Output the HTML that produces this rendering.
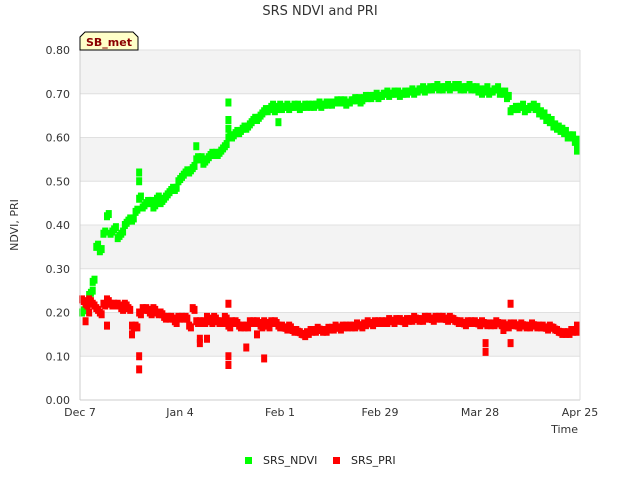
<!DOCTYPE html>
<html><head><meta charset="utf-8"><style>
body{margin:0;background:#fff;font-family:"Liberation Sans","DejaVu Sans",sans-serif;}
svg text{font-family:"DejaVu Sans","Liberation Sans",sans-serif;}
</style></head><body>
<svg id="chart" width="640" height="480" viewBox="0 0 640 480" xmlns="http://www.w3.org/2000/svg">
<text x="320" y="15" text-anchor="middle" font-size="13" fill="#333">SRS NDVI and PRI</text>
<g id="bands"></g>
<g id="yaxis"></g>
<g id="xaxis"></g>
<g id="ndvi"></g>
<g id="pri"></g>
<line x1="80" y1="400" x2="580" y2="400" stroke="#ccc"/>
<line x1="80" y1="50" x2="80" y2="400" stroke="#ccc"/>
<line x1="580" y1="50" x2="580" y2="400" stroke="#ddd"/>
<text x="18" y="225" transform="rotate(-90 18 225)" text-anchor="middle" font-size="11" fill="#333">NDVI, PRI</text>
<text x="578" y="433" text-anchor="end" font-size="11" fill="#333">Time</text>
<g>
<path d="M80,50 L80,37 L85,32 L133,32 L138,37 L138,50 Z" fill="#ffffc8" stroke="#000" stroke-width="1"/>
<text x="109" y="46" text-anchor="middle" font-size="11" font-weight="bold" fill="#8b0000">SB_met</text>
</g>
<g>
<g><rect x="245" y="457" width="7" height="7" fill="#00ff00"/><text x="263" y="464" font-size="11" fill="#222">SRS_NDVI</text></g>
<g><rect x="333" y="457" width="7" height="7" fill="#ff0000"/><text x="351" y="464" font-size="11" fill="#222">SRS_PRI</text></g>
</g>
</svg>
<script>
const yTicks=[0,0.1,0.2,0.3,0.4,0.5,0.6,0.7,0.8];
const xTickDays=[0,28,56,84,112,140];
const xTickLabels=["Dec 7","Jan 4","Feb 1","Feb 29","Mar 28","Apr 25"];
const ndviDaily=[0.20,0.22,0.24,0.27,0.35,0.34,0.38,0.42,0.38,0.39,0.37,0.38,0.40,0.41,0.41,0.43,0.46,0.44,0.45,0.45,0.44,0.46,0.45,0.46,0.47,0.48,0.48,0.50,0.51,0.52,0.52,0.53,0.55,0.55,0.54,0.55,0.56,0.56,0.56,0.57,0.58,0.60,0.60,0.61,0.61,0.62,0.62,0.63,0.64,0.64,0.65,0.66,0.66,0.67,0.66,0.67,0.665,0.67,0.665,0.67,0.67,0.665,0.67,0.67,0.67,0.67,0.675,0.67,0.675,0.675,0.675,0.68,0.68,0.68,0.675,0.68,0.685,0.685,0.68,0.69,0.69,0.69,0.695,0.69,0.695,0.70,0.695,0.70,0.70,0.695,0.70,0.70,0.705,0.70,0.705,0.71,0.705,0.71,0.71,0.715,0.71,0.71,0.715,0.71,0.715,0.715,0.71,0.71,0.715,0.71,0.71,0.705,0.70,0.71,0.70,0.705,0.71,0.70,0.70,0.69,0.66,0.665,0.665,0.67,0.66,0.665,0.67,0.665,0.655,0.65,0.64,0.635,0.625,0.62,0.615,0.61,0.60,0.60,0.59,0.585,0.57];
const priDaily=[0.23,0.22,0.23,0.22,0.21,0.20,0.22,0.23,0.22,0.22,0.22,0.21,0.22,0.21,0.17,0.17,0.20,0.21,0.21,0.20,0.21,0.20,0.20,0.19,0.19,0.19,0.18,0.19,0.19,0.19,0.17,0.21,0.18,0.18,0.18,0.19,0.18,0.19,0.18,0.18,0.19,0.17,0.18,0.18,0.17,0.17,0.17,0.18,0.18,0.18,0.17,0.18,0.17,0.18,0.18,0.17,0.17,0.165,0.17,0.16,0.16,0.155,0.15,0.155,0.16,0.16,0.165,0.16,0.16,0.165,0.165,0.17,0.165,0.17,0.17,0.17,0.17,0.175,0.17,0.175,0.18,0.175,0.18,0.18,0.18,0.18,0.185,0.18,0.185,0.185,0.18,0.185,0.185,0.19,0.185,0.185,0.19,0.19,0.185,0.19,0.19,0.19,0.185,0.19,0.185,0.18,0.18,0.175,0.18,0.18,0.18,0.175,0.18,0.175,0.175,0.175,0.18,0.175,0.175,0.17,0.175,0.175,0.17,0.175,0.17,0.17,0.175,0.17,0.17,0.17,0.165,0.17,0.165,0.16,0.155,0.155,0.155,0.16,0.16,0.165,0.17];
const ndviOutlierDays=[16,16,41,41,41,55,3,32];
const ndviOutlierVals=[0.52,0.50,0.68,0.64,0.62,0.635,0.25,0.58];
const priOutlierDays=[16,16,14,33,33,35,41,41,41,46,51,49,113,113,120,120,118,1,7,2];
const priOutlierVals=[0.10,0.07,0.15,0.13,0.14,0.14,0.10,0.08,0.22,0.12,0.095,0.15,0.11,0.13,0.22,0.13,0.16,0.18,0.17,0.20];
const NS="http://www.w3.org/2000/svg";
const X0=80,X1=580,Y0=400,Y1=50,DAYS=140,YMAX=0.8;
function xs(d){return X0+d*(X1-X0)/DAYS;}
function ys(v){return Y0-v*(Y0-Y1)/YMAX;}
const bands=document.getElementById('bands');
for(let i=0;i<yTicks.length-1;i++){
  const r=document.createElementNS(NS,'rect');
  r.setAttribute('x',X0);r.setAttribute('width',X1-X0);
  r.setAttribute('y',ys(yTicks[i+1]));r.setAttribute('height',ys(yTicks[i])-ys(yTicks[i+1]));
  r.setAttribute('fill',i%2===1?'#f3f3f3':'#ffffff');
  
  
  bands.appendChild(r);
}
const ya=document.getElementById('yaxis');
yTicks.forEach(v=>{
  const l=document.createElementNS(NS,'line');
  l.setAttribute('x1',X0);l.setAttribute('x2',X1);l.setAttribute('y1',ys(v));l.setAttribute('y2',ys(v));
  l.setAttribute('stroke','#e0e0e0');
  
  
  ya.appendChild(l);
  const t=document.createElementNS(NS,'text');
  t.setAttribute('x',70);t.setAttribute('y',ys(v)+4);t.setAttribute('text-anchor','end');
  t.setAttribute('font-size','11');t.setAttribute('fill','#333');
  t.textContent=v.toFixed(2);
  
  
  ya.appendChild(t);
});
const xa=document.getElementById('xaxis');
xTickDays.forEach((d,i)=>{
  const t=document.createElementNS(NS,'text');
  t.setAttribute('x',xs(d));t.setAttribute('y',416);t.setAttribute('text-anchor','middle');
  t.setAttribute('font-size','11');t.setAttribute('fill','#333');
  t.textContent=xTickLabels[i];
  
  
  xa.appendChild(t);
});
function mark(g,d,v,color){
  const r=document.createElementNS(NS,'rect');
  r.setAttribute('x',Math.min(xs(d)-1,X1-6));r.setAttribute('y',ys(v)-4);
  r.setAttribute('width',6);r.setAttribute('height',8);r.setAttribute('fill',color);
  
  
  g.appendChild(r);
}
const gN=document.getElementById('ndvi'),gP=document.getElementById('pri');
ndviDaily.forEach((v,d)=>{mark(gN,d,v,'#00ff00');mark(gN,d+0.5,v+0.005,'#00ff00');});
ndviOutlierDays.forEach((d,i)=>mark(gN,d,ndviOutlierVals[i],'#00ff00'));
priDaily.forEach((v,d)=>{mark(gP,d,v,'#ff0000');mark(gP,d+0.5,v-0.004,'#ff0000');});
priOutlierDays.forEach((d,i)=>mark(gP,d,priOutlierVals[i],'#ff0000'));
</script>
</body></html>
